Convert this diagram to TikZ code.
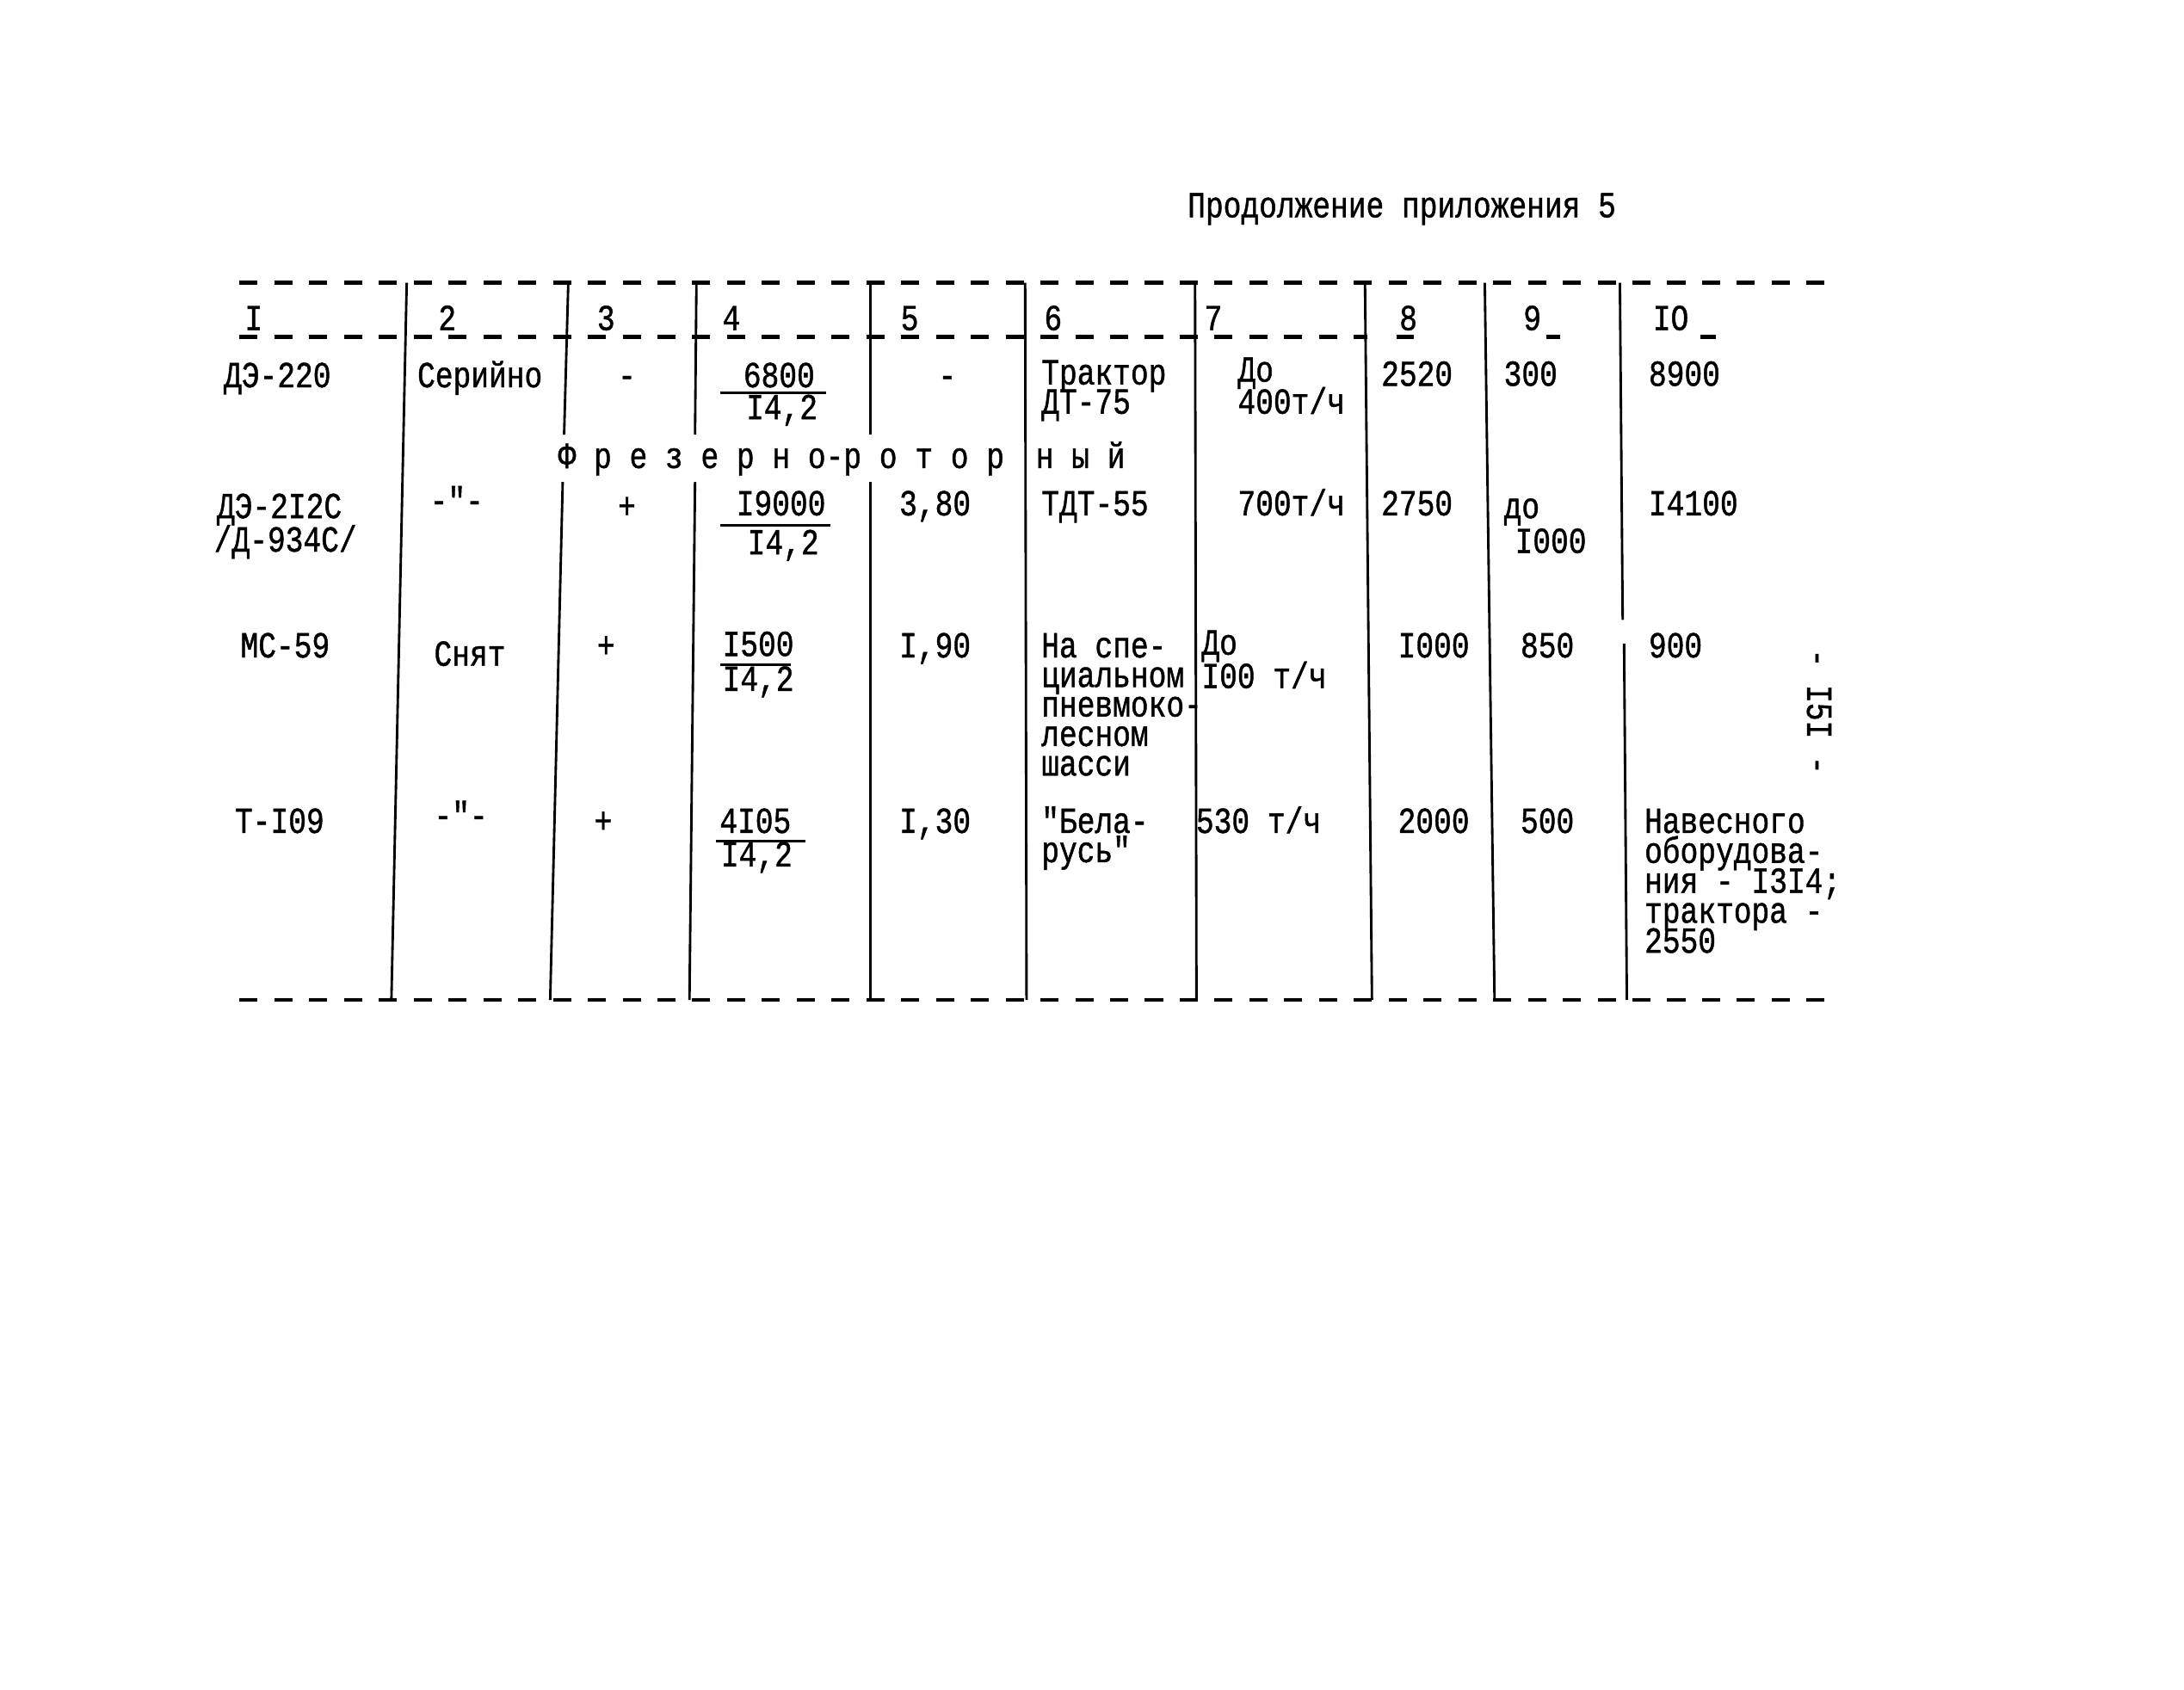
\documentclass[tikz,border=0pt]{standalone}
\usepackage{fontspec}
\newfontfamily\typer{Liberation Mono}[FakeStretch=0.81,FakeBold=1]
\usetikzlibrary{positioning}

\begin{document}
\begin{tikzpicture}[x=0.1mm,y=-0.1mm]
    \tikzset{cell/.style= {anchor=base west, inner sep=0pt, font=\typer\fontsize{7.5}{6}\selectfont},
             rule/.style= {line width=0.5pt},
             dashrule/.style= {line width=0.8pt, dash pattern=on 1.3mm off 1.2mm},}
    \useasboundingbox (0,0) rectangle (1568,1213);

    \node [cell] (title) at (852,156) {Продолжение приложения 5};

    % frame
    \draw [dashrule] (172,203) -- (1310,203);
    \draw [dashrule] (172,242) -- (982,242);
    \draw [dashrule] (1003,242) -- (1015,242) (1110,242) -- (1120,242) (1221,242) -- (1232,242);
    \draw [dashrule] (172,718) -- (1310,718);

    \foreach \xt/\xb in {292/281,736/737,858/859,980/985,1066/1073}
        \draw [rule] (\xt,203) -- (\xb,718);
    \draw [rule] (408,203) -- (405,312) (404,346) -- (395,718);
    \draw [rule] (500,203) -- (499,312) (499,346) -- (495,718);
    \draw [rule] (625,203) -- (625,312) (625,346) -- (625,718);
    \draw [rule] (1163,203) -- (1165,445) (1166,462) -- (1168,718);

    % header
    \foreach \x/\t [count=\i] in {175/I,314/2,428/3,518/4,646/5,749/6,864/7,1004/8,1093/9,1186/IO}
        \node [cell] (hd\i) at (\x,237) {\t};

    % row 1
    \node [cell] (de220) at (160,278) {ДЭ-220};
    \node [cell] (serial) at (299,278) {Серийно};
    \node [cell] (nodiv) at (443,278) {-};
    \node [cell] (num1) at (533,278) {6800};
    \draw [rule] (517,282) -- (593,282);
    \node [cell] (den1) at (535,301) {I4,2};
    \node [cell] (nopow) at (673,278) {-};
    \node [cell] (dt75a) at (747,276) {Трактор};
    \node [cell] (dt75b) at (747,297) {ДТ-75};
    \node [cell] (out1a) at (888,274) {До};
    \node [cell] (out1b) at (888,297) {400т/ч};
    \node [cell] (mass1) at (991,277) {2520};
    \node [cell] (dep1) at (1079,277) {300};
    \node [cell] (cost1) at (1183,277) {8900};

    \node [cell] (group) at (400,336) {Ф р е з е р н о-р о т о р};
    \node [cell] (groupend) at (743,336) {н ы й};

    % row 2
    \node [cell] (de212a) at (155,372) {ДЭ-2I2С};
    \node [cell] (de212b) at (153,396) {/Д-934С/};
    \node [cell] (ditto2) at (308,368) {-"-};
    \node [cell] (div2) at (443,372) {+};
    \node [cell] (num2) at (528,370) {I9000};
    \draw [rule] (517,377) -- (596,377);
    \node [cell] (den2) at (536,398) {I4,2};
    \node [cell] (pow2) at (645,370) {3,80};
    \node [cell] (tdt55) at (747,370) {ТДТ-55};
    \node [cell] (out2) at (888,370) {700т/ч};
    \node [cell] (mass2) at (991,370) {2750};
    \node [cell] (dep2a) at (1079,372) {до};
    \node [cell] (dep2b) at (1087,397) {I000};
    \node [cell] (cost2) at (1183,370) {I4100};

    % row 3
    \node [cell] (ms59) at (172,472) {МС-59};
    \node [cell] (removed) at (311,478) {Снят};
    \node [cell] (div3) at (428,472) {+};
    \node [cell] (num3) at (518,471) {I500};
    \draw [rule] (517,477) -- (568,477);
    \node [cell] (den3) at (518,496) {I4,2};
    \node [cell] (pow3) at (645,472) {I,90};
    \foreach \t [count=\i] in {На спе-,циальном,пневмоко-,лесном,шасси}
        \node [cell] (chassis\i) at (747,{472+21.2*(\i-1)}) {\t};
    \node [cell] (out3a) at (862,470) {До};
    \node [cell] (out3b) at (862,494) {I00 т/ч};
    \node [cell] (mass3) at (1003,472) {I000};
    \node [cell] (dep3) at (1091,472) {850};
    \node [cell] (cost3) at (1183,472) {900};

    % row 4
    \node [cell] (t109) at (168,598) {Т-I09};
    \node [cell] (ditto4) at (311,594) {-"-};
    \node [cell] (div4) at (426,598) {+};
    \node [cell] (num4) at (516,598) {4I05};
    \draw [rule] (514,604) -- (578,604);
    \node [cell] (den4) at (517,622) {I4,2};
    \node [cell] (pow4) at (645,598) {I,30};
    \node [cell] (belarus1) at (747,598) {"Бела-};
    \node [cell] (belarus2) at (747,619) {русь"};
    \node [cell] (out4) at (858,598) {530 т/ч};
    \node [cell] (mass4) at (1003,598) {2000};
    \node [cell] (dep4) at (1091,598) {500};
    \foreach \t [count=\i] in {Навесного,оборудова-,ния - I3I4;,трактора -,2550}
        \node [cell] (cost4l\i) at (1180,{598+21.5*(\i-1)}) {\t};

    \node [cell, rotate=-90, anchor=center] (pageno) at (1306,511) {- I5I -};
\end{tikzpicture}
\end{document}
